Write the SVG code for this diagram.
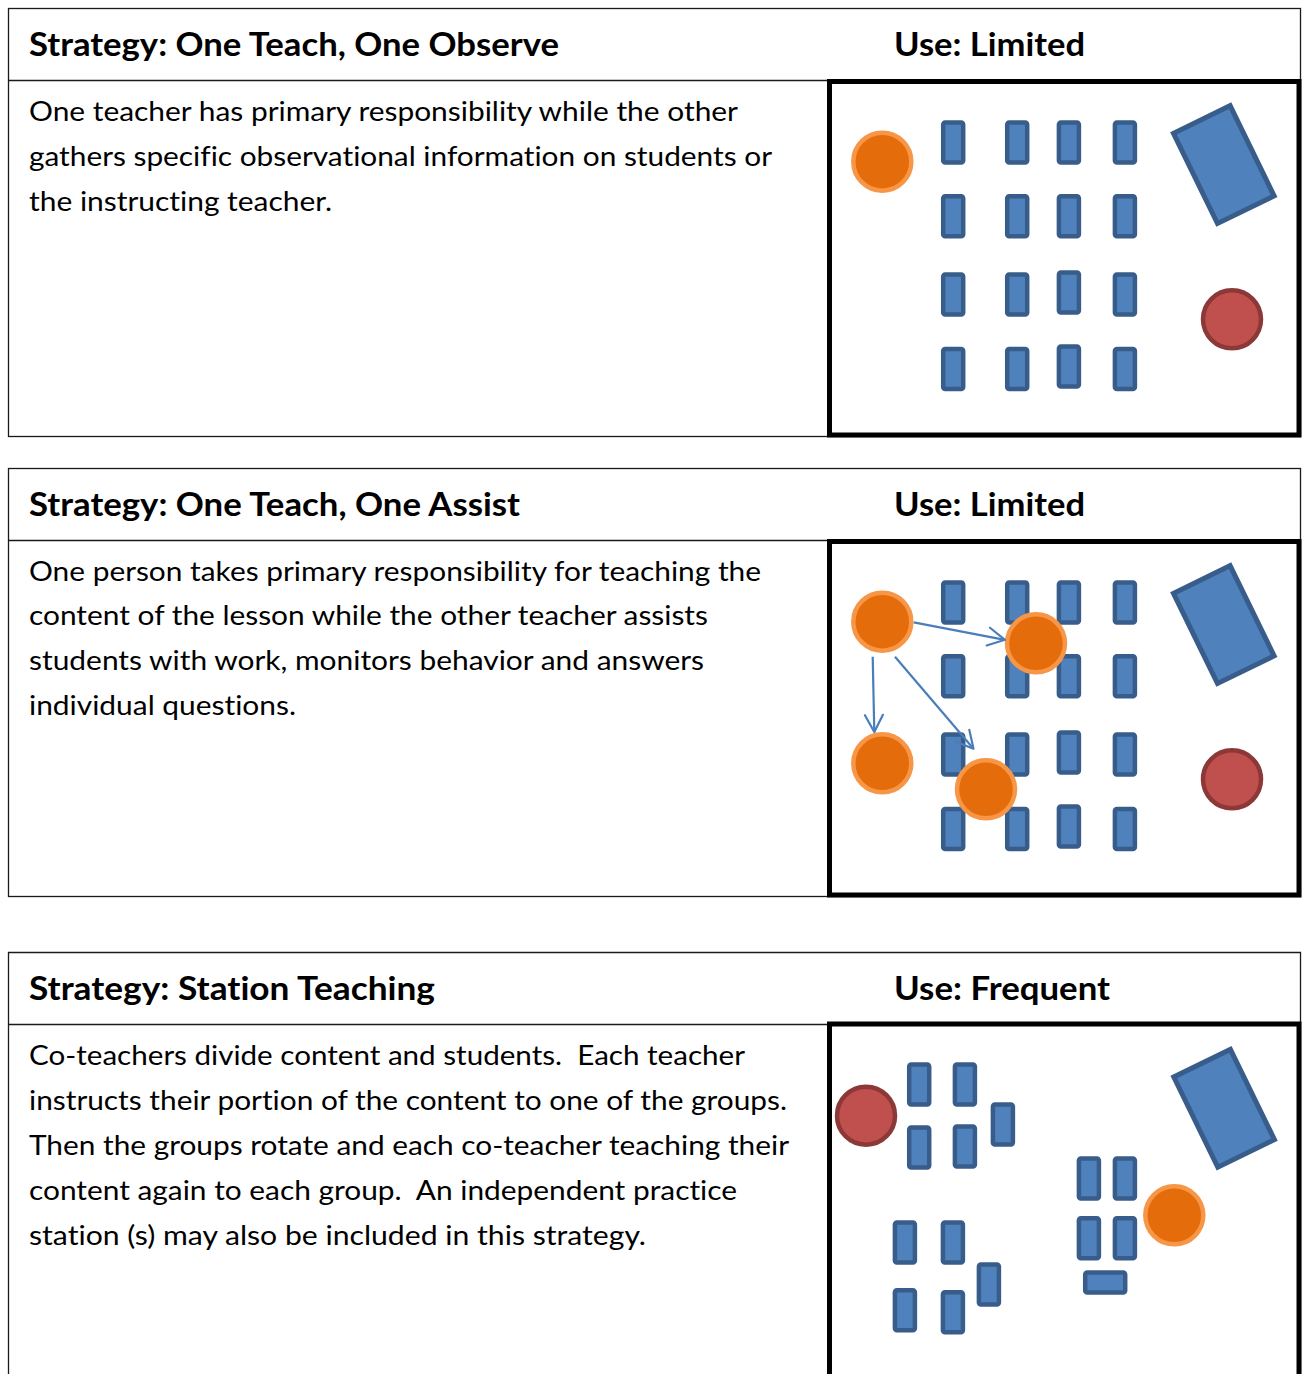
<svg xmlns="http://www.w3.org/2000/svg" width="1302" height="1374" viewBox="0 0 1302 1374">
<style>
  .frame{fill:none;stroke:#1a1a1a;stroke-width:1.3}
  .thick{fill:#fff;stroke:#000;stroke-width:5}
  .hd{font-family:Lato,"Open Sans","Liberation Sans",sans-serif;font-weight:700;font-size:32px;fill:#000;white-space:pre;font-variant-ligatures:none}
  .bd{font-family:Lato,"Open Sans","Liberation Sans",sans-serif;font-weight:400;font-size:27px;fill:#000;white-space:pre;font-variant-ligatures:none}
  .desk{fill:#4F81BD;stroke:#385D8A;stroke-width:4.5}
  .tdesk{fill:#4F81BD;stroke:#385D8A;stroke-width:5}
  .co{fill:#E46C0A;stroke:#F79646;stroke-width:4.5}
  .lead{fill:#C0504D;stroke:#8C3836;stroke-width:4.5}
  .arrow{fill:none;stroke:#4A7EBB;stroke-width:2.2}
</style>
<defs>
  <marker id="vhead" markerUnits="userSpaceOnUse" viewBox="-20 -12 24 24" refX="0" refY="0" markerWidth="24" markerHeight="24" orient="auto" overflow="visible">
    <path d="M-17,-9 L0,0 L-17,9" fill="none" stroke="#4A7EBB" stroke-width="2.2" stroke-linecap="round" stroke-linejoin="round"/>
  </marker>
  <rect id="d" width="20" height="40" rx="2" class="desk"/>
</defs>
<rect width="1302" height="1374" fill="#fff"/>

<!-- Panel 1 -->
<g id="panel-observe">
  <rect class="frame" x="8.5" y="8.5" width="1292" height="428"/>
  <line class="frame" x1="8.5" y1="80.5" x2="1300.5" y2="80.5"/>
  <text class="hd" x="29" y="55.5" textLength="530" lengthAdjust="spacingAndGlyphs">Strategy: One Teach, One Observe</text>
  <text class="hd" x="894" y="55.5" textLength="191" lengthAdjust="spacingAndGlyphs">Use: Limited</text>
  <text class="bd" x="29" y="120.5" textLength="709" lengthAdjust="spacingAndGlyphs">One teacher has primary responsibility while the other</text>
  <text class="bd" x="29" y="165.5" textLength="743" lengthAdjust="spacingAndGlyphs">gathers specific observational information on students or</text>
  <text class="bd" x="29" y="210.5" textLength="303" lengthAdjust="spacingAndGlyphs">the instructing teacher.</text>
  <rect class="thick" x="829.5" y="81.5" width="469.5" height="353.5"/>
  <g id="p1-desks">
    <use href="#d" x="943.2" y="122.5"/><use href="#d" x="1007.2" y="122.5"/><use href="#d" x="1058.9" y="122.5"/><use href="#d" x="1114.9" y="122.5"/>
    <use href="#d" x="943.2" y="196.2"/><use href="#d" x="1007.2" y="196.2"/><use href="#d" x="1058.9" y="196.2"/><use href="#d" x="1114.9" y="196.2"/>
    <use href="#d" x="943.2" y="274.5"/><use href="#d" x="1007.2" y="274.5"/><use href="#d" x="1058.9" y="272.5"/><use href="#d" x="1114.9" y="274.5"/>
    <use href="#d" x="943.2" y="348.9"/><use href="#d" x="1007.2" y="348.9"/><use href="#d" x="1058.9" y="346.5"/><use href="#d" x="1114.9" y="348.9"/>
  </g>
  <g id="p1-teacher-desk"><rect class="tdesk" x="-31.5" y="-50.2" width="63" height="100.4" transform="translate(1223.8 164.6) rotate(-26)"/></g>
  <g id="p1-observer"><circle class="co" cx="882.3" cy="161.7" r="29"/></g>
  <g id="p1-teacher"><circle class="lead" cx="1232" cy="319.3" r="29"/></g>
</g>

<!-- Panel 2 -->
<g id="panel-assist">
  <rect class="frame" x="8.5" y="468.5" width="1292" height="428"/>
  <line class="frame" x1="8.5" y1="540.5" x2="1300.5" y2="540.5"/>
  <text class="hd" x="29" y="515.5" textLength="491" lengthAdjust="spacingAndGlyphs">Strategy: One Teach, One Assist</text>
  <text class="hd" x="894" y="515.5" textLength="191" lengthAdjust="spacingAndGlyphs">Use: Limited</text>
  <text class="bd" x="29" y="580.5" textLength="732" lengthAdjust="spacingAndGlyphs">One person takes primary responsibility for teaching the</text>
  <text class="bd" x="29" y="625.3" textLength="679" lengthAdjust="spacingAndGlyphs">content of the lesson while the other teacher assists</text>
  <text class="bd" x="29" y="670.1" textLength="675" lengthAdjust="spacingAndGlyphs">students with work, monitors behavior and answers</text>
  <text class="bd" x="29" y="714.9" textLength="267" lengthAdjust="spacingAndGlyphs">individual questions.</text>
  <rect class="thick" x="829.5" y="541.5" width="469.5" height="353.5"/>
  <g id="p2-desks">
    <use href="#d" x="943.2" y="582.5"/><use href="#d" x="1007.2" y="582.5"/><use href="#d" x="1058.9" y="582.5"/><use href="#d" x="1114.9" y="582.5"/>
    <use href="#d" x="943.2" y="656.2"/><use href="#d" x="1007.2" y="656.2"/><use href="#d" x="1058.9" y="656.2"/><use href="#d" x="1114.9" y="656.2"/>
    <use href="#d" x="943.2" y="734.5"/><use href="#d" x="1007.2" y="734.5"/><use href="#d" x="1058.9" y="732.5"/><use href="#d" x="1114.9" y="734.5"/>
    <use href="#d" x="943.2" y="808.9"/><use href="#d" x="1007.2" y="808.9"/><use href="#d" x="1058.9" y="806.5"/><use href="#d" x="1114.9" y="808.9"/>
  </g>
  <g id="p2-teacher-desk"><rect class="tdesk" x="-31.5" y="-50.2" width="63" height="100.4" transform="translate(1223.8 624.6) rotate(-26)"/></g>
  <g id="p2-assist-start"><circle class="co" cx="882.3" cy="621.7" r="29"/></g>
  <g id="p2-assist-a"><circle class="co" cx="1036" cy="643.3" r="29"/></g>
  <g id="p2-assist-b"><circle class="co" cx="882.3" cy="763.3" r="29"/></g>
  <g id="p2-assist-c"><circle class="co" cx="986" cy="789.3" r="29"/></g>
  <g id="p2-teacher"><circle class="lead" cx="1232" cy="779.3" r="29"/></g>
</g>

<g id="connectors">
  <line class="arrow" x1="913.7" y1="622.3" x2="1005" y2="639.8" marker-end="url(#vhead)"/>
  <line class="arrow" x1="872.7" y1="656.7" x2="874.3" y2="732" marker-end="url(#vhead)"/>
  <line class="arrow" x1="895" y1="656.7" x2="973.5" y2="748.7" marker-end="url(#vhead)"/>
</g>

<!-- Panel 3 -->
<g id="panel-station">
  <path class="frame" d="M8.5,1380 V952.5 H1300.5 V1380"/>
  <line class="frame" x1="8.5" y1="1024.5" x2="1300.5" y2="1024.5"/>
  <text class="hd" x="29" y="999.5" textLength="406" lengthAdjust="spacingAndGlyphs">Strategy: Station Teaching</text>
  <text class="hd" x="894" y="999.5" textLength="216" lengthAdjust="spacingAndGlyphs">Use: Frequent</text>
  <text class="bd" x="29" y="1064.5" textLength="716" lengthAdjust="spacingAndGlyphs">Co-teachers divide content and students.  Each teacher</text>
  <text class="bd" x="29" y="1109.5" textLength="758" lengthAdjust="spacingAndGlyphs">instructs their portion of the content to one of the groups.</text>
  <text class="bd" x="29" y="1154.5" textLength="760" lengthAdjust="spacingAndGlyphs">Then the groups rotate and each co-teacher teaching their</text>
  <text class="bd" x="29" y="1199.5" textLength="708" lengthAdjust="spacingAndGlyphs">content again to each group.  An independent practice</text>
  <text class="bd" x="29" y="1244.5" textLength="617" lengthAdjust="spacingAndGlyphs">station (s) may also be included in this strategy.</text>
  <rect class="thick" x="829.5" y="1024" width="469.5" height="400"/>
  <g id="p3-desks-a">
    <use href="#d" x="909.2" y="1064.5"/><use href="#d" x="954.9" y="1064.5"/><use href="#d" x="992.9" y="1104.5"/>
    <use href="#d" x="909.2" y="1127.5"/><use href="#d" x="954.9" y="1126.5"/>
  </g>
  <g id="p3-desks-b">
    <use href="#d" x="894.9" y="1222.5"/><use href="#d" x="942.9" y="1222.5"/><use href="#d" x="978.9" y="1264.5"/>
    <use href="#d" x="894.9" y="1290.2"/><use href="#d" x="942.9" y="1292.2"/>
  </g>
  <g id="p3-desks-c">
    <use href="#d" x="1078.9" y="1158.5"/><use href="#d" x="1114.9" y="1158.5"/>
    <use href="#d" x="1078.9" y="1218.2"/><use href="#d" x="1114.9" y="1218.2"/>
    <rect class="desk" x="1085.2" y="1272.5" width="40" height="20" rx="2"/>
  </g>
  <g id="p3-teacher-desk"><rect class="tdesk" x="-31.5" y="-50.2" width="63" height="100.4" transform="translate(1224.1 1108.3) rotate(-26)"/></g>
  <g id="p3-teacher"><circle class="lead" cx="866" cy="1115.7" r="29"/></g>
  <g id="p3-coteacher"><circle class="co" cx="1174.3" cy="1215.3" r="29"/></g>
</g>
</svg>
